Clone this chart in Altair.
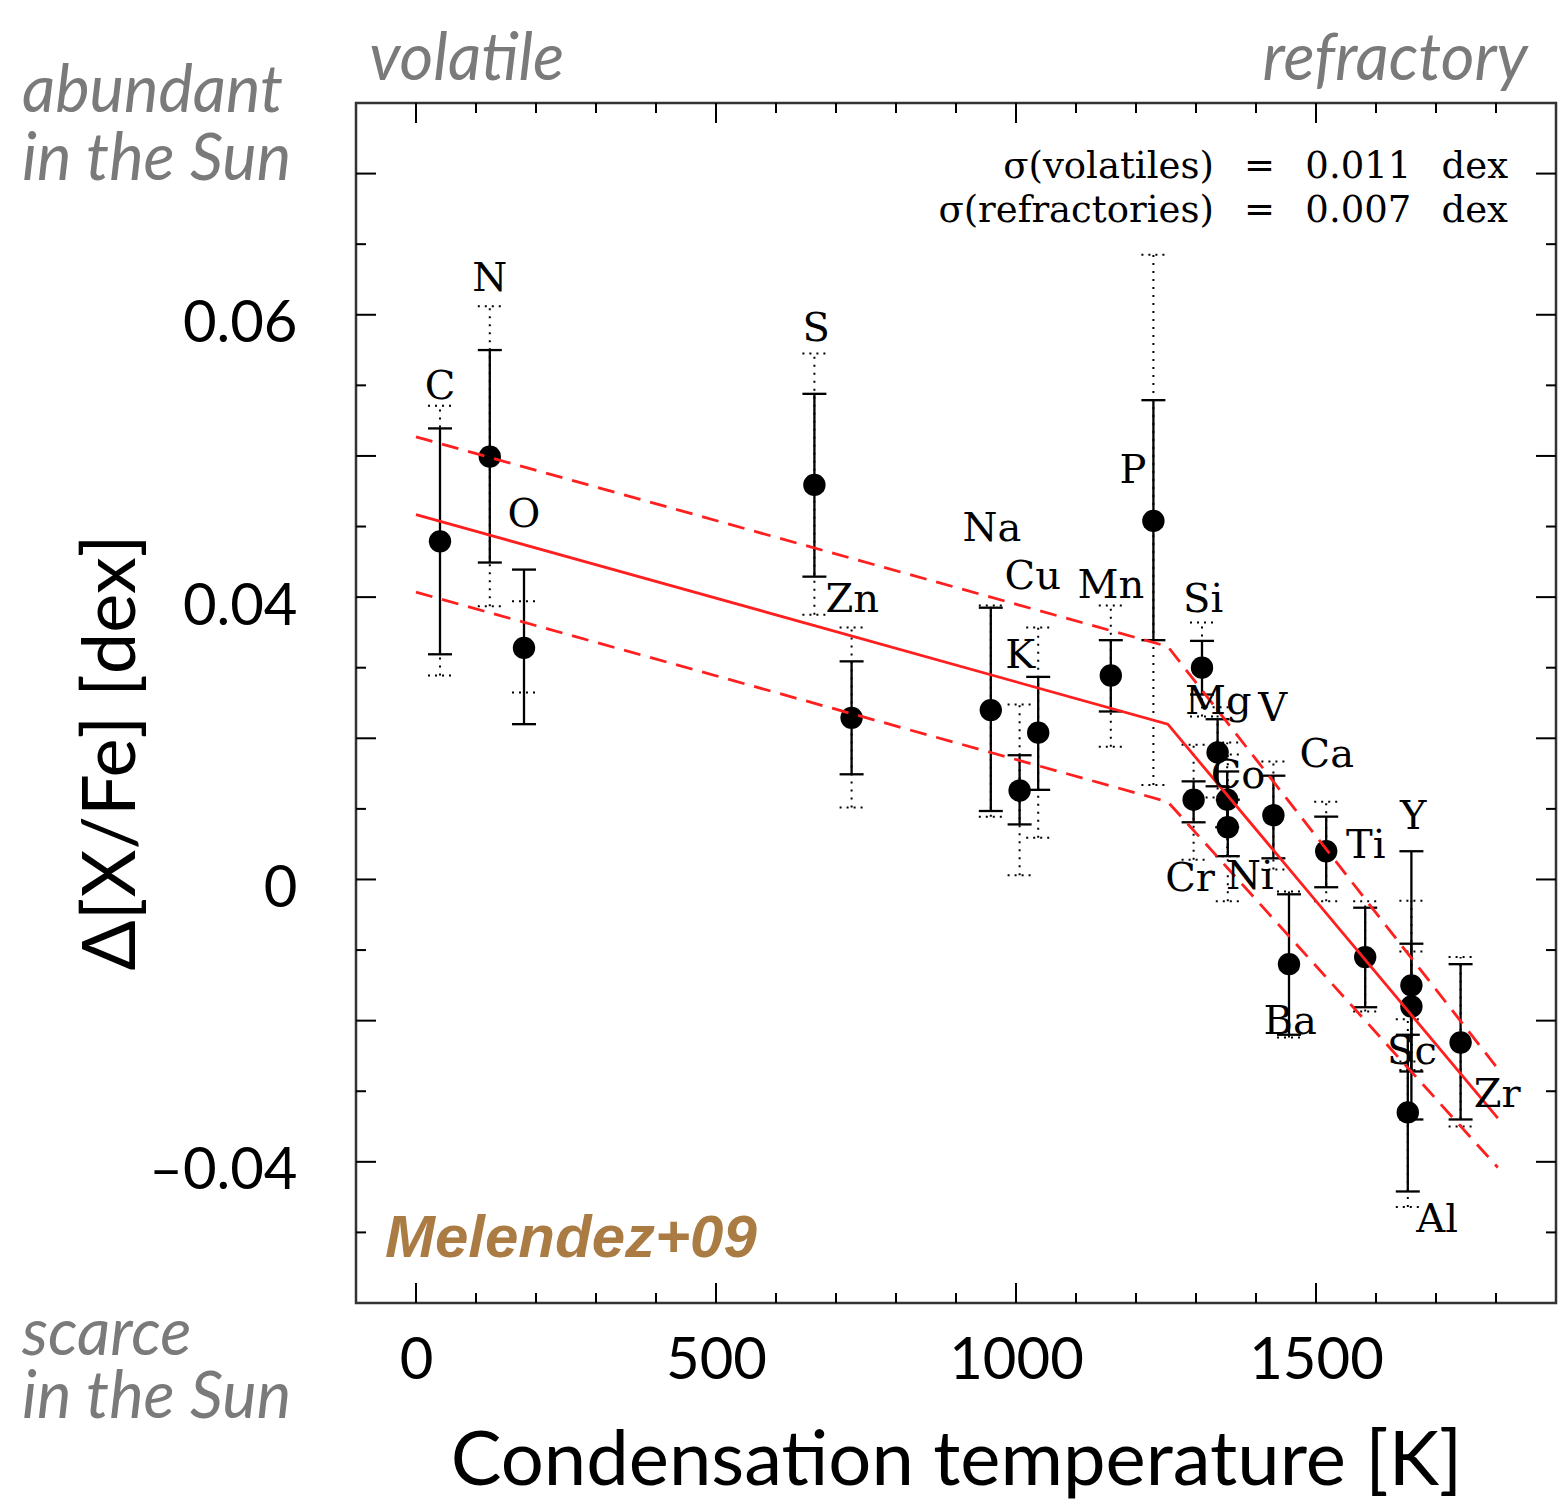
import altair as alt
import pandas as pd

# ---------------- data ----------------
elements = ["C", "N", "O", "S", "Zn", "Na", "K", "Cu", "Mn", "P", "Si", "Cr",
            "Mg", "Co", "Ni", "V", "Ba", "Ca", "Ti", "Al", "Y", "Sc", "Zr"]
tc = [40, 123, 180, 664, 726, 958, 1006, 1037, 1158, 1229, 1310, 1296,
      1336, 1352, 1353, 1429, 1455, 1517, 1582, 1653, 1659, 1659, 1741]
dxfe = [0.0479, 0.0599, 0.0328, 0.0559, 0.0229, 0.0240, 0.0126, 0.0208, 0.0289, 0.0508, 0.0300, 0.0113,
        0.0180, 0.0113, 0.0074, 0.0091, -0.0120, 0.0040, -0.0110, -0.0330, -0.0150, -0.0180, -0.0231]
sig_lo = [0.0319, 0.0449, 0.0220, 0.0429, 0.0149, 0.0097, 0.0078, 0.0127, 0.0238, 0.0339, 0.0262, 0.0081,
          0.0132, 0.0074, 0.0033, 0.0030, -0.0220, -0.0011, -0.0181, -0.0442, -0.0340, -0.0272, -0.0340]
sig_hi = [0.0639, 0.0750, 0.0439, 0.0688, 0.0309, 0.0385, 0.0176, 0.0287, 0.0339, 0.0679, 0.0338, 0.0139,
          0.0227, 0.0153, 0.0113, 0.0147, -0.0021, 0.0089, -0.0040, -0.0220, 0.0040, -0.0091, -0.0120]
dot_lo = [0.0289, 0.0387, 0.0265, 0.0375, 0.0102, 0.0089, 0.0006, 0.0059, 0.0188, 0.0134, 0.0231, 0.0028,
          0.0116, 0.0033, -0.0031, 0.0014, -0.0224, -0.0031, -0.0187, -0.0464, -0.0270, -0.0258, -0.0350]
dot_hi = [0.0671, 0.0812, 0.0394, 0.0745, 0.0357, 0.0388, 0.0248, 0.0357, 0.0388, 0.0885, 0.0364, 0.0191,
          0.0244, 0.0194, 0.0177, 0.0167, -0.0017, 0.0110, -0.0031, -0.0198, -0.0030, -0.0102, -0.0110]

# element label anchors (data units)
label_tc = [40, 123, 180, 667, 727, 960, 1007, 1028, 1158, 1195, 1312, 1290,
            1337, 1370, 1390, 1428, 1457, 1518, 1583, 1702, 1662, 1660, 1802]
label_dxfe = [0.0698, 0.0850, 0.0517, 0.0780, 0.0396, 0.0496, 0.0317, 0.0428, 0.0416, 0.0579, 0.0396, 0.0001,
              0.0251, 0.0146, 0.0004, 0.0241, -0.0202, 0.0177, 0.0047, -0.0483, 0.0089, -0.0245, -0.0306]

# fitted trend and +/- sigma lines
fit_tc = [0, 1253, 1803]
fit_mid = [0.0517, 0.0220, -0.0338]
fit_up = [0.0627, 0.0330, -0.0268]
fit_low = [0.0407, 0.0110, -0.0408]

# axis ticks
x_major = [0, 500, 1000, 1500]
x_minor = [100, 200, 300, 400, 600, 700, 800, 900, 1100, 1200, 1300, 1400, 1600, 1700, 1800]
y_major = [-0.04, -0.02, 0.0, 0.02, 0.04, 0.06, 0.08, 0.10]
y_minor = [-0.05, -0.03, -0.01, 0.01, 0.03, 0.05, 0.07, 0.09]
y_label_values = [0.08, 0.04, 0.0, -0.04]
y_label_text = ["0.06", "0.04", "0", "–0.04"]

sigma_text = ["σ(volatiles)\u2002 =\u2002 0.011\u2002 dex",
              "σ(refractories)\u2002 =\u2002 0.007\u2002 dex"]
sigma_tc = [1820, 1820]
sigma_dxfe = [0.0994, 0.0932]

top_text = ["volatile"]
top_tc = [-78.0]
top_dxfe = [0.1133]
right_text = ["refractory"]
right_tc = [1853]
right_dxfe = [0.1133]
upper_note = "abundant\nin the Sun"
lower_note = "scarce\nin the Sun"
note_tc = [-656.7, -656.7]
note_dxfe = [0.1087, -0.0673]

credit_text = ["Melendez+09"]
credit_tc = [-51.7]
credit_dxfe = [-0.0535]

# ---------------- tables ----------------
df = pd.DataFrame({"el": elements, "tc": tc, "dxfe": dxfe, "slo": sig_lo, "shi": sig_hi,
                   "dlo": dot_lo, "dhi": dot_hi})
lab = pd.DataFrame({"el": elements, "lx": label_tc, "ly": label_dxfe})
fit = pd.DataFrame({"tc": fit_tc, "mid": fit_mid, "up": fit_up, "low": fit_low})

W, H = 1200, 1200
xscale = alt.Scale(domain=[-100, 1900], nice=False, zero=False)
yscale = alt.Scale(domain=[-0.06, 0.11], nice=False, zero=False)

label_expr = " : ".join(f"abs(datum.value - ({v})) < 0.001 ? '{t}'"
                        for v, t in zip(y_label_values, y_label_text)) + " : ''"

xaxis = alt.Axis(values=x_major, format="d", ticks=False, domain=False, grid=False,
                 labelFont="Lato", labelFontSize=58, labelColor="black", labelPadding=75,
                 labelBaseline="alphabetic", labelFlush=False, labelOverlap=False,
                 title="Condensation temperature [K]", titleFont="Lato", titleFontSize=76,
                 titleFontWeight="normal", titleColor="black", titleBaseline="alphabetic",
                 titleX=600, titleY=181)
yaxis = alt.Axis(values=y_label_values, labelExpr=label_expr, ticks=False, domain=False, grid=False,
                 labelFont="Lato", labelFontSize=58, labelColor="black", labelPadding=59,
                 labelBaseline="alphabetic", labelOffset=27, labelAlign="right",
                 labelFlush=False, labelOverlap=False,
                 title="Δ[X/Fe] [dex]", titleFont="Lato", titleFontSize=74, titleFontWeight="normal",
                 titleColor="black", titleAngle=270, titleAlign="center", titleBaseline="alphabetic",
                 titleX=-222, titleY=649)


def X(f):
    return alt.X(f, type="quantitative", scale=xscale, axis=xaxis)


def Y(f):
    return alt.Y(f, type="quantitative", scale=yscale, axis=yaxis)


layers = []

# inward frame ticks
for vals, ln in ((x_major, 20), (x_minor, 10)):
    d = pd.DataFrame({"t": vals})
    layers.append(alt.Chart(d).mark_rule(color="black", strokeWidth=2).encode(
        x=X("t"), y=alt.value(H), y2=alt.value(H - ln)))
    layers.append(alt.Chart(d).mark_rule(color="black", strokeWidth=2).encode(
        x=X("t"), y=alt.value(0), y2=alt.value(ln)))
for vals, ln in ((y_major, 20), (y_minor, 10)):
    d = pd.DataFrame({"t": vals})
    layers.append(alt.Chart(d).mark_rule(color="black", strokeWidth=2).encode(
        y=Y("t"), x=alt.value(0), x2=alt.value(ln)))
    layers.append(alt.Chart(d).mark_rule(color="black", strokeWidth=2).encode(
        y=Y("t"), x=alt.value(W), x2=alt.value(W - ln)))

base = alt.Chart(df)
# dotted error bars
layers.append(base.mark_rule(color="black", strokeWidth=2, strokeDash=[2, 6]).encode(
    x=X("tc"), y=Y("dlo"), y2="dhi"))
for f in ("dlo", "dhi"):
    layers.append(base.mark_rule(color="black", strokeWidth=2, strokeDash=[2, 5],
                                 xOffset=-12, x2Offset=12).encode(x=X("tc"), x2="tc", y=Y(f)))
# solid error bars
layers.append(base.mark_rule(color="black", strokeWidth=2.3).encode(
    x=X("tc"), y=Y("slo"), y2="shi"))
for f in ("slo", "shi"):
    layers.append(base.mark_rule(color="black", strokeWidth=2.3,
                                 xOffset=-12, x2Offset=12).encode(x=X("tc"), x2="tc", y=Y(f)))
# points
layers.append(base.mark_circle(color="black", opacity=1, size=500).encode(x=X("tc"), y=Y("dxfe")))

# trend lines
red = "#ff1f1f"
fb = alt.Chart(fit)
layers.append(fb.mark_line(color=red, strokeWidth=2.8).encode(x=X("tc"), y=Y("mid")))
layers.append(fb.mark_line(color=red, strokeWidth=2.8, strokeDash=[17, 10]).encode(x=X("tc"), y=Y("up")))
layers.append(fb.mark_line(color=red, strokeWidth=2.8, strokeDash=[17, 10]).encode(x=X("tc"), y=Y("low")))

# element labels
layers.append(alt.Chart(lab).mark_text(font="DejaVu Serif", fontSize=40, color="black",
                                       align="center", baseline="middle").encode(
    x=X("lx"), y=Y("ly"), text="el"))

# sigma annotation
sig = pd.DataFrame({"t": sigma_text, "x": sigma_tc, "y": sigma_dxfe})
layers.append(alt.Chart(sig).mark_text(font="DejaVu Serif", fontSize=37, color="black",
                                       align="right", baseline="alphabetic").encode(
    x=X("x"), y=Y("y"), text="t"))

grey = "#7a7a7a"
# grey side annotations
topd = pd.DataFrame({"t": top_text, "x": top_tc, "y": top_dxfe})
layers.append(alt.Chart(topd).mark_text(font="Lato", fontStyle="italic", fontSize=65, color=grey,
                                        align="left", baseline="alphabetic").encode(
    x=X("x"), y=Y("y"), text="t"))
rside = pd.DataFrame({"t": right_text, "x": right_tc, "y": right_dxfe})
layers.append(alt.Chart(rside).mark_text(font="Lato", fontStyle="italic", fontSize=65, color=grey,
                                         align="right", baseline="alphabetic").encode(
    x=X("x"), y=Y("y"), text="t"))
for txt, i, lh in ((upper_note, 0, 68), (lower_note, 1, 63)):
    nd = pd.DataFrame({"t": [txt], "x": [note_tc[i]], "y": [note_dxfe[i]]})
    layers.append(alt.Chart(nd).mark_text(font="Lato", fontStyle="italic", fontSize=65, color=grey,
                                          align="left", baseline="alphabetic",
                                          lineBreak="\n", lineHeight=lh).encode(
        x=X("x"), y=Y("y"), text="t"))

# credit
cred = pd.DataFrame({"t": credit_text, "x": credit_tc, "y": credit_dxfe})
layers.append(alt.Chart(cred).mark_text(font="Liberation Sans", fontStyle="italic", fontWeight="bold",
                                        fontSize=60, color="#aa7c44", align="left",
                                        baseline="alphabetic").encode(
    x=X("x"), y=Y("y"), text="t"))

chart = alt.layer(*layers).properties(
    width=W, height=H,
    padding={"left": 348, "top": 95, "right": 3, "bottom": 198},
    autosize=alt.AutoSizeParams(type="none"),
).configure_view(stroke="#333333", strokeWidth=2.5)

chart.save("out.html", embed_options={"renderer": "svg", "actions": False})
